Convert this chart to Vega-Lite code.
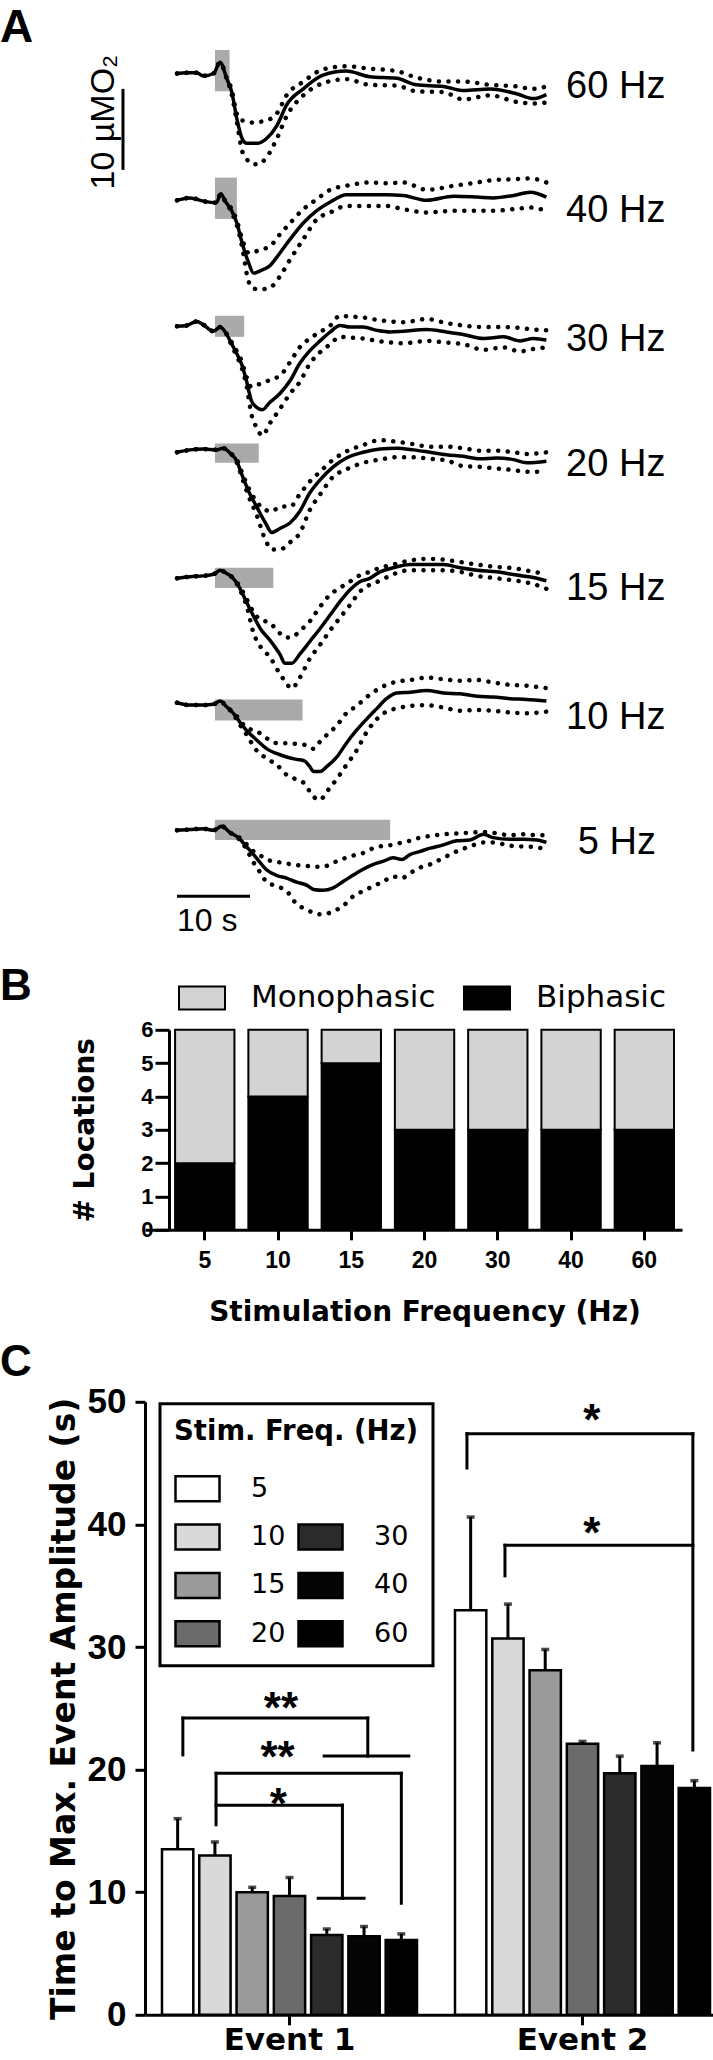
{
"$schema": "https://vega.github.io/schema/vega-lite/v6.json",
"background": "white",
"padding": {"left": 0, "top": 5, "right": 0, "bottom": 0},
"bounds": "flush",
"spacing": 976.8,
"resolve": {"scale": {"fill": "independent"}, "legend": {"fill": "independent"}},
"config": {
  "view": {"stroke": null},
  "axis": {"domainColor": "black", "tickColor": "black", "labelColor": "black", "titleColor": "black", "grid": false, "labelOverlap": false, "labelFlush": false}
},
"vconcat": [
{
  "title": {"text": "A", "anchor": "start", "frame": "group", "dx": -145, "dy": 2, "fontSize": 46, "font": "Liberation Sans", "fontWeight": "bold", "color": "black", "baseline": "top", "offset": 0},
  "data": {"values": [
    {"k":"stim","f":"60 Hz","t":5.2,"t2":7.2,"v":2.9,"v2":-2.2},
    {"k":"stim","f":"40 Hz","t":5.2,"t2":8.2,"v":2.7,"v2":-2.4},
    {"k":"stim","f":"30 Hz","t":5.2,"t2":9.2,"v":1.2,"v2":-1.4},
    {"k":"stim","f":"20 Hz","t":5.2,"t2":11.2,"v":1.0,"v2":-1.4},
    {"k":"stim","f":"15 Hz","t":5.2,"t2":13.2,"v":1.2,"v2":-1.3},
    {"k":"stim","f":"10 Hz","t":5.2,"t2":17.2,"v":0.5,"v2":-2.1},
    {"k":"stim","f":"5 Hz","t":5.2,"t2":29.2,"v":1.2,"v2":-1.3},
    {"k":"lab","f":"60 Hz","t":53.3,"v":-3.0,"txt":"60 Hz"},
    {"k":"lab","f":"40 Hz","t":53.3,"v":-2.8,"txt":"40 Hz"},
    {"k":"lab","f":"30 Hz","t":53.3,"v":-3.1,"txt":"30 Hz"},
    {"k":"lab","f":"20 Hz","t":53.3,"v":-3.0,"txt":"20 Hz"},
    {"k":"lab","f":"15 Hz","t":53.3,"v":-2.8,"txt":"15 Hz"},
    {"k":"lab","f":"10 Hz","t":53.3,"v":-3.1,"txt":"10 Hz"},
    {"k":"lab","f":"5 Hz","t":54.9,"v":-3.0,"txt":"5 Hz"},
    {"k":"bar","f":"60 Hz","t":-7.4,"t2":-7.4,"v":-1.9,"v2":-11.9},
    {"k":"bar","f":"5 Hz","t":0,"t2":10,"v":-8.23,"v2":-8.23},
    {"k":"vlab","f":"60 Hz","t":-8.6,"v":-6.0,"txt":"10 µMO₂"},
    {"k":"hlab","f":"5 Hz","t":0,"v":-12.56,"txt":"10 s"},

    {"k":"tr","f":"60 Hz","t":0,"m":0,"lo":0,"hi":0},
    {"k":"tr","f":"60 Hz","t":1.3,"m":0.1,"lo":0.1,"hi":0.1},
    {"k":"tr","f":"60 Hz","t":2.7,"m":0.1,"lo":0.1,"hi":0.1},
    {"k":"tr","f":"60 Hz","t":3.6,"m":-0.3,"lo":-0.3,"hi":-0.3},
    {"k":"tr","f":"60 Hz","t":5.0,"m":0,"lo":0,"hi":0},
    {"k":"tr","f":"60 Hz","t":5.9,"m":1.4,"lo":1.4,"hi":1.4},
    {"k":"tr","f":"60 Hz","t":6.8,"m":-0.6,"lo":-0.6,"hi":-0.6},
    {"k":"tr","f":"60 Hz","t":7.5,"m":-2.3,"lo":-2.6,"hi":-2.0},
    {"k":"tr","f":"60 Hz","t":8.2,"m":-5.6,"lo":-6.0,"hi":-5.0},
    {"k":"tr","f":"60 Hz","t":8.9,"m":-8.0,"lo":-9.5,"hi":-5.8},
    {"k":"tr","f":"60 Hz","t":9.5,"m":-8.6,"lo":-10.5,"hi":-5.8},
    {"k":"tr","f":"60 Hz","t":10.5,"m":-8.6,"lo":-11.2,"hi":-6.1},
    {"k":"tr","f":"60 Hz","t":11.1,"m":-8.6,"lo":-11.2,"hi":-6.0},
    {"k":"tr","f":"60 Hz","t":12.3,"m":-8.0,"lo":-10.3,"hi":-5.8},
    {"k":"tr","f":"60 Hz","t":13.7,"m":-6.4,"lo":-8.0,"hi":-4.9},
    {"k":"tr","f":"60 Hz","t":15.0,"m":-3.9,"lo":-5.3,"hi":-2.7},
    {"k":"tr","f":"60 Hz","t":17.3,"m":-1.9,"lo":-2.7,"hi":-1.0},
    {"k":"tr","f":"60 Hz","t":20.0,"m":-0.2,"lo":-1.2,"hi":0.5},
    {"k":"tr","f":"60 Hz","t":23.2,"m":0.3,"lo":-0.7,"hi":0.9},
    {"k":"tr","f":"60 Hz","t":26.4,"m":-0.4,"lo":-1.4,"hi":0.6},
    {"k":"tr","f":"60 Hz","t":30.1,"m":-0.6,"lo":-1.5,"hi":0.3},
    {"k":"tr","f":"60 Hz","t":32.8,"m":-1.4,"lo":-2.2,"hi":-0.5},
    {"k":"tr","f":"60 Hz","t":36.5,"m":-1.6,"lo":-2.3,"hi":-1.0},
    {"k":"tr","f":"60 Hz","t":39.2,"m":-2.1,"lo":-3.2,"hi":-1.0},
    {"k":"tr","f":"60 Hz","t":42.9,"m":-1.9,"lo":-2.7,"hi":-1.4},
    {"k":"tr","f":"60 Hz","t":46.5,"m":-2.5,"lo":-3.5,"hi":-1.6},
    {"k":"tr","f":"60 Hz","t":48.8,"m":-3.1,"lo":-3.7,"hi":-1.9},
    {"k":"tr","f":"60 Hz","t":50.6,"m":-2.6,"lo":-3.6,"hi":-1.6},

    {"k":"tr","f":"40 Hz","t":0,"m":-0.1,"lo":-0.1,"hi":-0.1},
    {"k":"tr","f":"40 Hz","t":1.8,"m":0.2,"lo":0.2,"hi":0.2},
    {"k":"tr","f":"40 Hz","t":3.6,"m":-0.2,"lo":-0.2,"hi":-0.2},
    {"k":"tr","f":"40 Hz","t":5.4,"m":-0.4,"lo":-0.4,"hi":-0.4},
    {"k":"tr","f":"40 Hz","t":6.0,"m":0.7,"lo":0.7,"hi":0.7},
    {"k":"tr","f":"40 Hz","t":6.6,"m":-0.2,"lo":-0.2,"hi":-0.2},
    {"k":"tr","f":"40 Hz","t":7.5,"m":-1.4,"lo":-1.6,"hi":-1.2},
    {"k":"tr","f":"40 Hz","t":8.2,"m":-2.9,"lo":-3.2,"hi":-2.6},
    {"k":"tr","f":"40 Hz","t":8.9,"m":-5.3,"lo":-5.8,"hi":-4.8},
    {"k":"tr","f":"40 Hz","t":9.8,"m":-7.8,"lo":-10.1,"hi":-6.6},
    {"k":"tr","f":"40 Hz","t":10.5,"m":-9.1,"lo":-11.0,"hi":-6.5},
    {"k":"tr","f":"40 Hz","t":11.4,"m":-8.8,"lo":-11.1,"hi":-6.2},
    {"k":"tr","f":"40 Hz","t":12.7,"m":-8.2,"lo":-10.9,"hi":-5.8},
    {"k":"tr","f":"40 Hz","t":14.1,"m":-6.6,"lo":-9.5,"hi":-4.3},
    {"k":"tr","f":"40 Hz","t":15.5,"m":-4.9,"lo":-7.4,"hi":-2.9},
    {"k":"tr","f":"40 Hz","t":17.3,"m":-2.9,"lo":-4.9,"hi":-1.2},
    {"k":"tr","f":"40 Hz","t":19.1,"m":-1.4,"lo":-2.5,"hi":0},
    {"k":"tr","f":"40 Hz","t":21.0,"m":-0.3,"lo":-1.6,"hi":1.2},
    {"k":"tr","f":"40 Hz","t":23.2,"m":0.6,"lo":-0.8,"hi":1.7},
    {"k":"tr","f":"40 Hz","t":26.4,"m":0.6,"lo":-0.8,"hi":2.1},
    {"k":"tr","f":"40 Hz","t":28.7,"m":0.6,"lo":-0.8,"hi":2.0},
    {"k":"tr","f":"40 Hz","t":31.0,"m":0.5,"lo":-1.2,"hi":2.1},
    {"k":"tr","f":"40 Hz","t":34.2,"m":-0.1,"lo":-1.6,"hi":1.2},
    {"k":"tr","f":"40 Hz","t":37.9,"m":0.4,"lo":-1.4,"hi":1.7},
    {"k":"tr","f":"40 Hz","t":41.1,"m":0.3,"lo":-1.4,"hi":2.1},
    {"k":"tr","f":"40 Hz","t":43.3,"m":0.2,"lo":-1.4,"hi":2.4},
    {"k":"tr","f":"40 Hz","t":46.1,"m":0.5,"lo":-1.2,"hi":2.5},
    {"k":"tr","f":"40 Hz","t":48.4,"m":0.9,"lo":-1.0,"hi":2.6},
    {"k":"tr","f":"40 Hz","t":50.6,"m":0.3,"lo":-1.4,"hi":2.1},

    {"k":"tr","f":"30 Hz","t":0,"m":-0.1,"lo":-0.1,"hi":-0.1},
    {"k":"tr","f":"30 Hz","t":1.3,"m":0,"lo":0,"hi":0},
    {"k":"tr","f":"30 Hz","t":2.7,"m":0.5,"lo":0.5,"hi":0.5},
    {"k":"tr","f":"30 Hz","t":3.6,"m":0.1,"lo":0.1,"hi":0.1},
    {"k":"tr","f":"30 Hz","t":5.0,"m":-0.7,"lo":-0.7,"hi":-0.7},
    {"k":"tr","f":"30 Hz","t":5.9,"m":-0.2,"lo":-0.2,"hi":-0.2},
    {"k":"tr","f":"30 Hz","t":6.6,"m":-0.8,"lo":-0.8,"hi":-0.8},
    {"k":"tr","f":"30 Hz","t":7.5,"m":-2.3,"lo":-2.5,"hi":-2.1},
    {"k":"tr","f":"30 Hz","t":8.2,"m":-3.5,"lo":-3.8,"hi":-3.2},
    {"k":"tr","f":"30 Hz","t":8.9,"m":-4.9,"lo":-5.3,"hi":-4.5},
    {"k":"tr","f":"30 Hz","t":9.5,"m":-6.8,"lo":-7.3,"hi":-6.3},
    {"k":"tr","f":"30 Hz","t":10.2,"m":-9.3,"lo":-11.0,"hi":-7.6},
    {"k":"tr","f":"30 Hz","t":10.9,"m":-10.1,"lo":-12.6,"hi":-7.3},
    {"k":"tr","f":"30 Hz","t":11.7,"m":-10.4,"lo":-13.6,"hi":-7.2},
    {"k":"tr","f":"30 Hz","t":12.7,"m":-9.5,"lo":-12.1,"hi":-6.7},
    {"k":"tr","f":"30 Hz","t":14.1,"m":-8.4,"lo":-10.3,"hi":-6.2},
    {"k":"tr","f":"30 Hz","t":15.5,"m":-6.8,"lo":-8.4,"hi":-4.5},
    {"k":"tr","f":"30 Hz","t":16.8,"m":-4.7,"lo":-7.0,"hi":-2.7},
    {"k":"tr","f":"30 Hz","t":18.2,"m":-3.1,"lo":-4.7,"hi":-1.6},
    {"k":"tr","f":"30 Hz","t":19.6,"m":-1.9,"lo":-3.3,"hi":-0.8},
    {"k":"tr","f":"30 Hz","t":21.0,"m":-0.8,"lo":-2.3,"hi":0},
    {"k":"tr","f":"30 Hz","t":22.3,"m":0,"lo":-1.4,"hi":1.2},
    {"k":"tr","f":"30 Hz","t":23.7,"m":-0.2,"lo":-1.5,"hi":1.1},
    {"k":"tr","f":"30 Hz","t":25.5,"m":-0.2,"lo":-1.6,"hi":1.0},
    {"k":"tr","f":"30 Hz","t":27.4,"m":-0.6,"lo":-1.9,"hi":0.7},
    {"k":"tr","f":"30 Hz","t":29.2,"m":-0.8,"lo":-2.1,"hi":0.5},
    {"k":"tr","f":"30 Hz","t":31.0,"m":-0.7,"lo":-2.2,"hi":0.4},
    {"k":"tr","f":"30 Hz","t":34.2,"m":-0.5,"lo":-1.9,"hi":0.8},
    {"k":"tr","f":"30 Hz","t":36.9,"m":-0.8,"lo":-2.1,"hi":0.3},
    {"k":"tr","f":"30 Hz","t":39.2,"m":-1.1,"lo":-2.3,"hi":0},
    {"k":"tr","f":"30 Hz","t":42.0,"m":-1.6,"lo":-3.0,"hi":-0.2},
    {"k":"tr","f":"30 Hz","t":44.7,"m":-1.4,"lo":-2.7,"hi":-0.2},
    {"k":"tr","f":"30 Hz","t":47.0,"m":-1.9,"lo":-3.2,"hi":-0.3},
    {"k":"tr","f":"30 Hz","t":48.8,"m":-1.6,"lo":-2.9,"hi":-0.5},
    {"k":"tr","f":"30 Hz","t":50.6,"m":-1.8,"lo":-2.7,"hi":-0.6},

    {"k":"tr","f":"20 Hz","t":0,"m":-0.1,"lo":-0.1,"hi":-0.1},
    {"k":"tr","f":"20 Hz","t":1.8,"m":0.2,"lo":0.2,"hi":0.2},
    {"k":"tr","f":"20 Hz","t":3.6,"m":0.3,"lo":0.3,"hi":0.3},
    {"k":"tr","f":"20 Hz","t":5.4,"m":0.2,"lo":0.2,"hi":0.2},
    {"k":"tr","f":"20 Hz","t":6.3,"m":0.4,"lo":0.4,"hi":0.4},
    {"k":"tr","f":"20 Hz","t":7.3,"m":-0.2,"lo":-0.2,"hi":-0.2},
    {"k":"tr","f":"20 Hz","t":8.2,"m":-1.2,"lo":-1.4,"hi":-1.0},
    {"k":"tr","f":"20 Hz","t":8.9,"m":-2.9,"lo":-3.2,"hi":-2.6},
    {"k":"tr","f":"20 Hz","t":9.8,"m":-4.9,"lo":-5.5,"hi":-4.5},
    {"k":"tr","f":"20 Hz","t":10.9,"m":-6.8,"lo":-7.8,"hi":-6.2},
    {"k":"tr","f":"20 Hz","t":12.1,"m":-8.8,"lo":-10.9,"hi":-7.2},
    {"k":"tr","f":"20 Hz","t":13.0,"m":-10.0,"lo":-12.1,"hi":-7.4},
    {"k":"tr","f":"20 Hz","t":14.1,"m":-9.5,"lo":-12.1,"hi":-6.8},
    {"k":"tr","f":"20 Hz","t":15.5,"m":-8.8,"lo":-11.2,"hi":-6.8},
    {"k":"tr","f":"20 Hz","t":16.8,"m":-7.4,"lo":-10.1,"hi":-5.3},
    {"k":"tr","f":"20 Hz","t":18.2,"m":-5.1,"lo":-7.2,"hi":-3.7},
    {"k":"tr","f":"20 Hz","t":19.6,"m":-3.5,"lo":-5.3,"hi":-2.5},
    {"k":"tr","f":"20 Hz","t":21.4,"m":-1.9,"lo":-3.1,"hi":-1.0},
    {"k":"tr","f":"20 Hz","t":23.2,"m":-0.8,"lo":-2.2,"hi":0},
    {"k":"tr","f":"20 Hz","t":25.5,"m":-0.1,"lo":-1.4,"hi":0.8},
    {"k":"tr","f":"20 Hz","t":27.8,"m":0.3,"lo":-1.0,"hi":1.4},
    {"k":"tr","f":"20 Hz","t":30.1,"m":0.4,"lo":-0.7,"hi":1.2},
    {"k":"tr","f":"20 Hz","t":32.4,"m":0.2,"lo":-0.7,"hi":0.9},
    {"k":"tr","f":"20 Hz","t":34.7,"m":-0.1,"lo":-0.9,"hi":0.6},
    {"k":"tr","f":"20 Hz","t":36.9,"m":-0.4,"lo":-1.1,"hi":0.6},
    {"k":"tr","f":"20 Hz","t":39.2,"m":-0.6,"lo":-1.8,"hi":0.4},
    {"k":"tr","f":"20 Hz","t":41.5,"m":-0.9,"lo":-1.9,"hi":0.1},
    {"k":"tr","f":"20 Hz","t":43.8,"m":-0.8,"lo":-2.1,"hi":0.1},
    {"k":"tr","f":"20 Hz","t":46.1,"m":-1.0,"lo":-2.3,"hi":-0.1},
    {"k":"tr","f":"20 Hz","t":47.9,"m":-1.4,"lo":-2.5,"hi":-0.3},
    {"k":"tr","f":"20 Hz","t":50.6,"m":-1.2,"lo":-2.5,"hi":-0.1},

    {"k":"tr","f":"15 Hz","t":0,"m":-0.1,"lo":-0.1,"hi":-0.1},
    {"k":"tr","f":"15 Hz","t":1.8,"m":0.1,"lo":0.1,"hi":0.1},
    {"k":"tr","f":"15 Hz","t":3.6,"m":0.2,"lo":0.2,"hi":0.2},
    {"k":"tr","f":"15 Hz","t":5.0,"m":0.4,"lo":0.4,"hi":0.4},
    {"k":"tr","f":"15 Hz","t":5.9,"m":0.9,"lo":0.9,"hi":0.9},
    {"k":"tr","f":"15 Hz","t":6.8,"m":0.5,"lo":0.5,"hi":0.5},
    {"k":"tr","f":"15 Hz","t":7.7,"m":-0.1,"lo":-0.1,"hi":-0.1},
    {"k":"tr","f":"15 Hz","t":8.6,"m":-1.3,"lo":-1.5,"hi":-1.1},
    {"k":"tr","f":"15 Hz","t":9.5,"m":-3.0,"lo":-3.4,"hi":-2.6},
    {"k":"tr","f":"15 Hz","t":10.5,"m":-4.8,"lo":-6.9,"hi":-4.3},
    {"k":"tr","f":"15 Hz","t":11.4,"m":-6.3,"lo":-8.5,"hi":-5.2},
    {"k":"tr","f":"15 Hz","t":12.7,"m":-7.7,"lo":-9.8,"hi":-5.6},
    {"k":"tr","f":"15 Hz","t":14.1,"m":-9.5,"lo":-11.9,"hi":-6.9},
    {"k":"tr","f":"15 Hz","t":14.8,"m":-10.6,"lo":-12.8,"hi":-7.4},
    {"k":"tr","f":"15 Hz","t":15.7,"m":-10.6,"lo":-13.7,"hi":-7.4},
    {"k":"tr","f":"15 Hz","t":16.8,"m":-9.5,"lo":-12.4,"hi":-6.6},
    {"k":"tr","f":"15 Hz","t":18.2,"m":-7.9,"lo":-10.0,"hi":-5.4},
    {"k":"tr","f":"15 Hz","t":19.6,"m":-6.3,"lo":-8.3,"hi":-3.6},
    {"k":"tr","f":"15 Hz","t":21.0,"m":-4.6,"lo":-6.5,"hi":-2.1},
    {"k":"tr","f":"15 Hz","t":22.3,"m":-3.0,"lo":-5.0,"hi":-1.3},
    {"k":"tr","f":"15 Hz","t":23.7,"m":-1.5,"lo":-3.4,"hi":-0.5},
    {"k":"tr","f":"15 Hz","t":25.1,"m":-0.5,"lo":-1.7,"hi":0.3},
    {"k":"tr","f":"15 Hz","t":26.4,"m":-0.1,"lo":-0.9,"hi":0.7},
    {"k":"tr","f":"15 Hz","t":27.8,"m":0.7,"lo":-0.4,"hi":1.2},
    {"k":"tr","f":"15 Hz","t":29.6,"m":1.2,"lo":0.4,"hi":1.6},
    {"k":"tr","f":"15 Hz","t":31.9,"m":1.6,"lo":0.9,"hi":2.1},
    {"k":"tr","f":"15 Hz","t":34.2,"m":1.6,"lo":0.9,"hi":2.3},
    {"k":"tr","f":"15 Hz","t":36.5,"m":1.6,"lo":0.9,"hi":2.2},
    {"k":"tr","f":"15 Hz","t":38.8,"m":1.2,"lo":0.7,"hi":1.9},
    {"k":"tr","f":"15 Hz","t":41.1,"m":0.9,"lo":0.2,"hi":1.6},
    {"k":"tr","f":"15 Hz","t":43.8,"m":0.7,"lo":-0.1,"hi":1.3},
    {"k":"tr","f":"15 Hz","t":46.5,"m":0.3,"lo":-0.4,"hi":1.1},
    {"k":"tr","f":"15 Hz","t":48.8,"m":0,"lo":-0.8,"hi":0.7},
    {"k":"tr","f":"15 Hz","t":50.6,"m":-0.4,"lo":-1.4,"hi":0.5},

    {"k":"tr","f":"10 Hz","t":0,"m":0.1,"lo":0.1,"hi":0.1},
    {"k":"tr","f":"10 Hz","t":1.8,"m":-0.2,"lo":-0.2,"hi":-0.2},
    {"k":"tr","f":"10 Hz","t":3.6,"m":-0.2,"lo":-0.2,"hi":-0.2},
    {"k":"tr","f":"10 Hz","t":5.0,"m":-0.1,"lo":-0.1,"hi":-0.1},
    {"k":"tr","f":"10 Hz","t":5.9,"m":0.3,"lo":0.3,"hi":0.3},
    {"k":"tr","f":"10 Hz","t":6.8,"m":-0.4,"lo":-0.4,"hi":-0.4},
    {"k":"tr","f":"10 Hz","t":7.7,"m":-1.2,"lo":-1.3,"hi":-1.1},
    {"k":"tr","f":"10 Hz","t":8.6,"m":-2.3,"lo":-2.6,"hi":-2.0},
    {"k":"tr","f":"10 Hz","t":9.5,"m":-3.3,"lo":-3.8,"hi":-3.0},
    {"k":"tr","f":"10 Hz","t":10.9,"m":-4.5,"lo":-5.8,"hi":-3.4},
    {"k":"tr","f":"10 Hz","t":12.3,"m":-5.6,"lo":-6.8,"hi":-4.3},
    {"k":"tr","f":"10 Hz","t":13.7,"m":-6.2,"lo":-7.6,"hi":-4.9},
    {"k":"tr","f":"10 Hz","t":15.0,"m":-6.6,"lo":-8.8,"hi":-4.9},
    {"k":"tr","f":"10 Hz","t":16.4,"m":-6.9,"lo":-9.4,"hi":-5.0},
    {"k":"tr","f":"10 Hz","t":17.5,"m":-7.1,"lo":-9.9,"hi":-5.1},
    {"k":"tr","f":"10 Hz","t":18.2,"m":-7.8,"lo":-10.9,"hi":-5.3},
    {"k":"tr","f":"10 Hz","t":18.7,"m":-8.4,"lo":-11.5,"hi":-5.6},
    {"k":"tr","f":"10 Hz","t":19.6,"m":-8.4,"lo":-11.9,"hi":-4.7},
    {"k":"tr","f":"10 Hz","t":20.5,"m":-7.8,"lo":-10.9,"hi":-3.9},
    {"k":"tr","f":"10 Hz","t":21.9,"m":-6.6,"lo":-9.3,"hi":-2.7},
    {"k":"tr","f":"10 Hz","t":23.2,"m":-4.9,"lo":-7.6,"hi":-1.2},
    {"k":"tr","f":"10 Hz","t":24.6,"m":-3.3,"lo":-5.8,"hi":-0.3},
    {"k":"tr","f":"10 Hz","t":26.0,"m":-1.9,"lo":-3.5,"hi":0.8},
    {"k":"tr","f":"10 Hz","t":27.4,"m":-0.6,"lo":-1.9,"hi":1.7},
    {"k":"tr","f":"10 Hz","t":28.7,"m":0.6,"lo":-1.0,"hi":2.3},
    {"k":"tr","f":"10 Hz","t":30.1,"m":1.3,"lo":-0.6,"hi":2.7},
    {"k":"tr","f":"10 Hz","t":31.9,"m":1.4,"lo":-0.3,"hi":2.9},
    {"k":"tr","f":"10 Hz","t":34.2,"m":1.6,"lo":-0.2,"hi":3.2},
    {"k":"tr","f":"10 Hz","t":36.5,"m":1.3,"lo":-0.5,"hi":3.0},
    {"k":"tr","f":"10 Hz","t":38.8,"m":1.2,"lo":-0.9,"hi":2.8},
    {"k":"tr","f":"10 Hz","t":41.1,"m":0.9,"lo":-0.8,"hi":2.9},
    {"k":"tr","f":"10 Hz","t":43.3,"m":0.8,"lo":-0.9,"hi":2.6},
    {"k":"tr","f":"10 Hz","t":45.6,"m":0.6,"lo":-1.1,"hi":2.3},
    {"k":"tr","f":"10 Hz","t":47.9,"m":0.5,"lo":-1.2,"hi":2.2},
    {"k":"tr","f":"10 Hz","t":50.6,"m":0.3,"lo":-1.0,"hi":1.9},

    {"k":"tr","f":"5 Hz","t":0,"m":-0.1,"lo":-0.1,"hi":-0.1},
    {"k":"tr","f":"5 Hz","t":1.8,"m":0,"lo":0,"hi":0},
    {"k":"tr","f":"5 Hz","t":3.6,"m":0.1,"lo":0.1,"hi":0.1},
    {"k":"tr","f":"5 Hz","t":5.0,"m":-0.1,"lo":-0.1,"hi":-0.1},
    {"k":"tr","f":"5 Hz","t":6.1,"m":0.4,"lo":0.4,"hi":0.4},
    {"k":"tr","f":"5 Hz","t":7.3,"m":-0.4,"lo":-0.4,"hi":-0.4},
    {"k":"tr","f":"5 Hz","t":8.4,"m":-1.0,"lo":-1.1,"hi":-0.9},
    {"k":"tr","f":"5 Hz","t":9.5,"m":-2.1,"lo":-2.4,"hi":-1.8},
    {"k":"tr","f":"5 Hz","t":10.5,"m":-3.1,"lo":-4.1,"hi":-2.7},
    {"k":"tr","f":"5 Hz","t":11.4,"m":-4.1,"lo":-5.3,"hi":-3.2},
    {"k":"tr","f":"5 Hz","t":12.3,"m":-5.0,"lo":-6.5,"hi":-3.7},
    {"k":"tr","f":"5 Hz","t":13.7,"m":-5.7,"lo":-7.0,"hi":-4.0},
    {"k":"tr","f":"5 Hz","t":15.0,"m":-6.0,"lo":-7.6,"hi":-4.2},
    {"k":"tr","f":"5 Hz","t":16.4,"m":-6.5,"lo":-9.2,"hi":-4.4},
    {"k":"tr","f":"5 Hz","t":17.8,"m":-6.9,"lo":-9.9,"hi":-4.5},
    {"k":"tr","f":"5 Hz","t":18.7,"m":-7.4,"lo":-10.3,"hi":-4.6},
    {"k":"tr","f":"5 Hz","t":20.0,"m":-7.5,"lo":-10.5,"hi":-4.6},
    {"k":"tr","f":"5 Hz","t":21.4,"m":-7.2,"lo":-10.1,"hi":-4.1},
    {"k":"tr","f":"5 Hz","t":22.8,"m":-6.4,"lo":-9.4,"hi":-3.6},
    {"k":"tr","f":"5 Hz","t":24.2,"m":-5.6,"lo":-8.2,"hi":-3.2},
    {"k":"tr","f":"5 Hz","t":25.5,"m":-4.9,"lo":-7.6,"hi":-2.9},
    {"k":"tr","f":"5 Hz","t":26.9,"m":-4.3,"lo":-7.0,"hi":-2.3},
    {"k":"tr","f":"5 Hz","t":28.3,"m":-3.9,"lo":-6.4,"hi":-2.0},
    {"k":"tr","f":"5 Hz","t":29.6,"m":-3.5,"lo":-5.8,"hi":-1.9},
    {"k":"tr","f":"5 Hz","t":30.8,"m":-3.7,"lo":-6.0,"hi":-1.6},
    {"k":"tr","f":"5 Hz","t":31.9,"m":-3.1,"lo":-5.4,"hi":-1.4},
    {"k":"tr","f":"5 Hz","t":33.3,"m":-2.7,"lo":-4.7,"hi":-1.0},
    {"k":"tr","f":"5 Hz","t":34.7,"m":-2.3,"lo":-4.3,"hi":-0.8},
    {"k":"tr","f":"5 Hz","t":36.5,"m":-1.9,"lo":-3.5,"hi":-0.6},
    {"k":"tr","f":"5 Hz","t":38.3,"m":-1.4,"lo":-2.7,"hi":-0.5},
    {"k":"tr","f":"5 Hz","t":40.1,"m":-1.3,"lo":-2.1,"hi":-0.4},
    {"k":"tr","f":"5 Hz","t":42.0,"m":-0.6,"lo":-1.6,"hi":-0.3},
    {"k":"tr","f":"5 Hz","t":43.3,"m":-1.0,"lo":-1.6,"hi":-0.4},
    {"k":"tr","f":"5 Hz","t":45.6,"m":-1.2,"lo":-2.0,"hi":-0.7},
    {"k":"tr","f":"5 Hz","t":47.4,"m":-1.2,"lo":-2.1,"hi":-0.6},
    {"k":"tr","f":"5 Hz","t":49.3,"m":-1.3,"lo":-2.2,"hi":-0.7},
    {"k":"tr","f":"5 Hz","t":50.6,"m":-1.6,"lo":-2.5,"hi":-0.7}
  ]},
  "facet": {"row": {"field": "f", "type": "nominal", "sort": ["60 Hz","40 Hz","30 Hz","20 Hz","15 Hz","10 Hz","5 Hz"], "header": null}},
  "spacing": 0,
  "bounds": "flush",
  "spec": {
    "width": 568,
    "height": 125.27,
    "layer": [
      {"transform": [{"filter": "datum.k === 'stim'"}],
       "mark": {"type": "rect", "color": "#aaaaaa"},
       "encoding": {
         "x": {"field": "t", "type": "quantitative", "scale": {"domain": [-4.384, 73.42], "nice": false, "zero": false}, "axis": null},
         "x2": {"field": "t2"},
         "y": {"field": "v", "type": "quantitative", "scale": {"domain": [-12.935, 2.531], "nice": false, "zero": false}, "axis": null},
         "y2": {"field": "v2"}}},
      {"transform": [{"filter": "datum.k === 'tr'"}],
       "mark": {"type": "line", "color": "black", "strokeWidth": 3.5, "interpolate": "monotone"},
       "encoding": {"x": {"field": "t", "type": "quantitative", "axis": null}, "y": {"field": "m", "type": "quantitative", "axis": null}}},
      {"transform": [{"filter": "datum.k === 'tr'"}],
       "mark": {"type": "line", "color": "black", "strokeWidth": 4.5, "strokeCap": "round", "strokeDash": [0.1, 9.5], "interpolate": "monotone"},
       "encoding": {"x": {"field": "t", "type": "quantitative", "axis": null}, "y": {"field": "hi", "type": "quantitative", "axis": null}}},
      {"transform": [{"filter": "datum.k === 'tr'"}],
       "mark": {"type": "line", "color": "black", "strokeWidth": 4.5, "strokeCap": "round", "strokeDash": [0.1, 9.5], "interpolate": "monotone"},
       "encoding": {"x": {"field": "t", "type": "quantitative", "axis": null}, "y": {"field": "lo", "type": "quantitative", "axis": null}}},
      {"transform": [{"filter": "datum.k === 'bar'"}],
       "mark": {"type": "rule", "color": "black", "strokeWidth": 3},
       "encoding": {"x": {"field": "t", "type": "quantitative", "axis": null}, "x2": {"field": "t2"}, "y": {"field": "v", "type": "quantitative", "axis": null}, "y2": {"field": "v2"}}},
      {"transform": [{"filter": "datum.k === 'lab'"}],
       "mark": {"type": "text", "align": "left", "baseline": "alphabetic", "font": "Liberation Sans", "fontSize": 38, "color": "black"},
       "encoding": {"x": {"field": "t", "type": "quantitative", "axis": null}, "y": {"field": "v", "type": "quantitative", "axis": null}, "text": {"field": "txt"}}},
      {"transform": [{"filter": "datum.k === 'hlab'"}],
       "mark": {"type": "text", "align": "left", "baseline": "alphabetic", "font": "Liberation Sans", "fontSize": 32, "color": "black"},
       "encoding": {"x": {"field": "t", "type": "quantitative", "axis": null}, "y": {"field": "v", "type": "quantitative", "axis": null}, "text": {"field": "txt"}}},
      {"transform": [{"filter": "datum.k === 'vlab'"}],
       "mark": {"type": "text", "align": "center", "baseline": "alphabetic", "angle": 270, "font": "Liberation Sans", "fontSize": 34, "color": "black"},
       "encoding": {"x": {"field": "t", "type": "quantitative", "axis": null}, "y": {"field": "v", "type": "quantitative", "axis": null}, "text": {"field": "txt"}}}
    ]
  }
},
{
  "bounds": "flush",
  "spacing": 172,
  "resolve": {"scale": {"fill": "independent"}, "legend": {"fill": "independent"}},
  "vconcat": [
  {
    "title": {"text": "B", "anchor": "start", "frame": "group", "dx": -145, "dy": 35, "fontSize": 44, "font": "Liberation Sans", "fontWeight": "bold", "color": "black", "baseline": "top", "offset": 0},
    "width": 537,
    "height": 200,
    "data": {"values": [
      {"f":"5","type":"Biphasic","n":2},{"f":"5","type":"Monophasic","n":4},
      {"f":"10","type":"Biphasic","n":4},{"f":"10","type":"Monophasic","n":2},
      {"f":"15","type":"Biphasic","n":5},{"f":"15","type":"Monophasic","n":1},
      {"f":"20","type":"Biphasic","n":3},{"f":"20","type":"Monophasic","n":3},
      {"f":"30","type":"Biphasic","n":3},{"f":"30","type":"Monophasic","n":3},
      {"f":"40","type":"Biphasic","n":3},{"f":"40","type":"Monophasic","n":3},
      {"f":"60","type":"Biphasic","n":3},{"f":"60","type":"Monophasic","n":3}
    ]},
    "mark": {"type": "bar", "stroke": "black", "strokeWidth": 2},
    "encoding": {
      "x": {"field": "f", "type": "ordinal", "sort": ["5","10","15","20","30","40","60"],
            "scale": {"paddingInner": 0.19, "paddingOuter": 0.26, "align": 0.79},
            "axis": {"title": "Stimulation Frequency (Hz)", "labelAngle": 0, "labelFont": "Liberation Sans", "labelFontWeight": "bold", "labelFontSize": 23, "labelPadding": 10, "tickSize": 10, "tickWidth": 3, "domainWidth": 3, "titleFont": "DejaVu Sans", "titleFontWeight": "bold", "titleFontSize": 28, "titlePadding": 26, "titleX": 279.5}},
      "y": {"field": "n", "type": "quantitative", "stack": "zero", "scale": {"domain": [0, 6], "nice": false},
            "axis": {"title": "# Locations", "values": [0,1,2,3,4,5,6], "offset": -24, "labelFont": "Liberation Sans", "labelFontWeight": "bold", "labelFontSize": 22, "labelPadding": 2, "tickSize": 14, "tickWidth": 3, "domainWidth": 3, "titleFont": "DejaVu Sans", "titleFontWeight": "bold", "titleFontSize": 28, "titlePadding": 41}},
      "fill": {"field": "type", "type": "nominal", "scale": {"domain": ["Monophasic", "Biphasic"], "range": ["#d3d3d3", "#000000"]},
               "legend": {"orient": "none", "legendX": 33, "legendY": -56, "direction": "horizontal", "title": null, "symbolType": "M-1,-0.5H1V0.5H-1Z", "symbolSize": 2116, "symbolStrokeColor": "black", "symbolStrokeWidth": 2, "labelFont": "DejaVu Sans", "labelFontSize": 31, "labelColor": "black", "labelOffset": 25, "labelLimit": 500, "columnPadding": 24, "padding": 0}},
      "order": {"field": "type", "type": "nominal", "sort": "ascending"}
    }
  },
  {
    "title": {"text": "C", "anchor": "start", "frame": "group", "dx": -145, "fontSize": 44, "font": "Liberation Sans", "fontWeight": "bold", "color": "black", "baseline": "top", "offset": 0},
    "width": 568,
    "height": 613,
    "layer": [
      {
        "data": {"values": [
          {"event":"Event 1","freq":"5","mean":13.5,"upper":16.0},
          {"event":"Event 1","freq":"10","mean":13.0,"upper":14.1},
          {"event":"Event 1","freq":"15","mean":10.0,"upper":10.4},
          {"event":"Event 1","freq":"20","mean":9.7,"upper":11.2},
          {"event":"Event 1","freq":"30","mean":6.5,"upper":7.0},
          {"event":"Event 1","freq":"40","mean":6.4,"upper":7.2},
          {"event":"Event 1","freq":"60","mean":6.1,"upper":6.6},
          {"event":"Event 2","freq":"5","mean":33.0,"upper":40.6},
          {"event":"Event 2","freq":"10","mean":30.7,"upper":33.5},
          {"event":"Event 2","freq":"15","mean":28.1,"upper":29.8},
          {"event":"Event 2","freq":"20","mean":22.1,"upper":22.3},
          {"event":"Event 2","freq":"30","mean":19.7,"upper":21.1},
          {"event":"Event 2","freq":"40","mean":20.3,"upper":22.2},
          {"event":"Event 2","freq":"60","mean":18.5,"upper":19.1}
        ]},
        "encoding": {
          "x": {"field": "event", "type": "nominal", "scale": {"domain": ["Event 1", "Event 2"], "paddingInner": 0.1297, "paddingOuter": 0.0341, "align": 0.85},
                "axis": {"title": null, "labelAngle": 0, "labelFont": "DejaVu Sans", "labelFontWeight": "bold", "labelFontSize": 31, "labelPadding": 1, "tickSize": 10, "tickWidth": 3, "domainWidth": 3}},
          "xOffset": {"field": "freq", "type": "nominal", "scale": {"domain": ["5","10","15","20","30","40","60"], "paddingInner": 0.16, "paddingOuter": 0}}
        },
        "layer": [
          {"mark": {"type": "bar", "stroke": "black", "strokeWidth": 2.5},
           "encoding": {
             "y": {"field": "mean", "type": "quantitative", "scale": {"domain": [0, 50], "nice": false},
                   "axis": {"title": "Time to Max. Event Amplitude (s)", "values": [0,10,20,30,40,50], "labelFont": "Liberation Sans", "labelFontWeight": "bold", "labelFontSize": 35, "labelPadding": 9, "tickSize": 10, "tickWidth": 3, "domainWidth": 3, "titleFont": "DejaVu Sans", "titleFontWeight": "bold", "titleFontSize": 33, "titlePadding": 6}},
             "fill": {"field": "freq", "type": "nominal",
                      "scale": {"domain": ["5","10","15","20","30","40","60"," "], "range": ["#ffffff","#d9d9d9","#9a9a9a","#6b6b6b","#2b2b2b","#050505","#000000","#ffffff"]},
                      "legend": {"orient": "none", "legendX": 15, "legendY": 2, "title": "Stim. Freq. (Hz)", "titleFont": "DejaVu Sans", "titleFontWeight": "bold", "titleFontSize": 27.5, "titleColor": "black", "titlePadding": 20, "titleLimit": 500,
                                 "values": ["5","10","15","20"," ","30","40","60"], "columns": 2, "columnPadding": 7, "rowPadding": 7.3,
                                 "symbolType": "M-1,-0.568H1V0.568H-1Z", "symbolSize": 1936, "symbolStrokeColor": "black", "symbolStrokeWidth": 2.5,
                                 "labelFont": "DejaVu Sans", "labelFontSize": 27, "labelColor": "black", "labelOffset": 30, "labelLimit": 200,
                                 "padding": 14, "strokeColor": "black", "fillColor": "white",
                                 "encode": {"legend": {"update": {"strokeWidth": {"value": 3}}},
                                            "symbols": {"update": {"strokeOpacity": {"signal": "datum.value === ' ' ? 0 : 1"}}}}}}
           }},
          {"mark": {"type": "rule", "color": "black", "strokeWidth": 3},
           "encoding": {"y": {"field": "mean", "type": "quantitative"}, "y2": {"field": "upper"}}},
          {"mark": {"type": "tick", "color": "black", "thickness": 3.5, "size": 8},
           "encoding": {"y": {"field": "upper", "type": "quantitative"}}}
        ]
      },
      {
        "layer": [
          {"data": {"values": [
             {"s":0.14,"s2":5.1,"v":24.2,"v2":24.2},
             {"s":0.14,"s2":0.14,"v":24.2,"v2":21.2},
             {"s":5.1,"s2":5.1,"v":24.2,"v2":21.1},
             {"s":3.93,"s2":6.2,"v":21.1,"v2":21.1},
             {"s":1.03,"s2":6.0,"v":19.7,"v2":19.7},
             {"s":1.03,"s2":1.03,"v":19.7,"v2":15.5},
             {"s":6.0,"s2":6.0,"v":19.7,"v2":9.1},
             {"s":1.03,"s2":4.42,"v":17.1,"v2":17.1},
             {"s":4.42,"s2":4.42,"v":17.1,"v2":9.5},
             {"s":3.77,"s2":5.0,"v":9.5,"v2":9.5},
             {"s":7.76,"s2":13.82,"v":47.4,"v2":47.4},
             {"s":7.76,"s2":7.76,"v":47.4,"v2":44.6},
             {"s":13.82,"s2":13.82,"v":47.4,"v2":21.6},
             {"s":8.78,"s2":13.82,"v":38.3,"v2":38.3},
             {"s":8.78,"s2":8.78,"v":38.3,"v2":35.8}
           ]},
           "mark": {"type": "rule", "color": "black", "strokeWidth": 3, "strokeCap": "square"},
           "encoding": {
             "x": {"field": "s", "type": "quantitative", "scale": {"domain": [-0.8755, 14.36], "nice": false, "zero": false}, "axis": null},
             "x2": {"field": "s2"},
             "y": {"field": "v", "type": "quantitative"},
             "y2": {"field": "v2"}}},
          {"data": {"values": [
             {"s":2.77,"v":23.8,"txt":"**"},
             {"s":2.68,"v":19.8,"txt":"**"},
             {"s":2.70,"v":16.0,"txt":"*"},
             {"s":11.11,"v":47.3,"txt":"*"},
             {"s":11.11,"v":38.1,"txt":"*"}
           ]},
           "mark": {"type": "text", "font": "Liberation Sans", "fontWeight": "bold", "fontSize": 44, "align": "center", "baseline": "alphabetic", "color": "black"},
           "encoding": {
             "x": {"field": "s", "type": "quantitative", "axis": null},
             "y": {"field": "v", "type": "quantitative"},
             "text": {"field": "txt"}}}
        ]
      }
    ],
    "resolve": {"scale": {"x": "independent"}}
  }
  ]
}
]
}
